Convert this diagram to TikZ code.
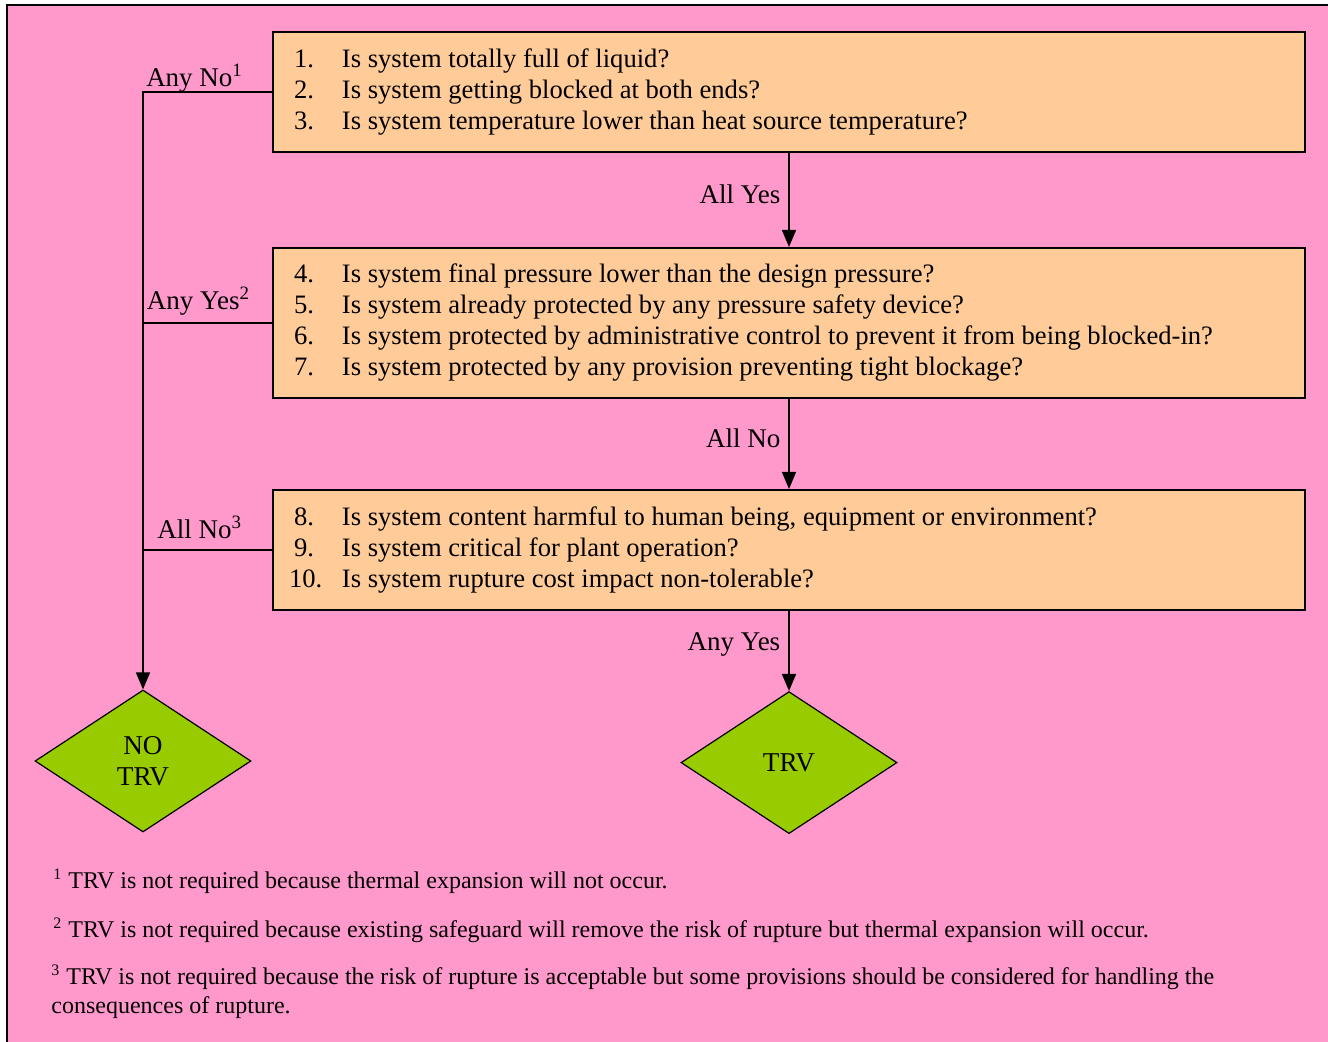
\documentclass[tikz,border=0pt]{standalone}
\usepackage{fontspec}
\setmainfont{Liberation Serif}
\usepackage{tikz}
\usetikzlibrary{arrows.meta, positioning, shapes, calc}
\definecolor{bgpink}{HTML}{FF99CC}
\definecolor{qorange}{HTML}{FFCC99}
\definecolor{dgreen}{HTML}{99CC00}
\newcommand{\qitem}[1]{\makebox[24pt][l]{#1}}

\begin{document}
\begin{tikzpicture}[x=0.5pt, y=-0.5pt, >={Triangle[width=7pt,length=8.5pt]},
    qbox/.style={draw, fill=qorange, line width=1pt, minimum width=516pt, text width=495pt,
        inner xsep=10.5pt, inner ysep=0pt, align=flush left, font=\fontsize{13.3}{15.5}\selectfont},
    decision/.style={diamond, draw, fill=dgreen, line width=0.6pt, minimum width=108pt,
        minimum height=71pt, inner sep=0pt, align=center, font=\fontsize{13.6}{15.5}\selectfont},
    lbl/.style={inner sep=1pt, font=\fontsize{13.5}{15.5}\selectfont},
    conn/.style={line width=0.75pt},
    fn/.style={inner sep=0pt, align=left, font=\fontsize{12}{14.5}\selectfont}]
    \useasboundingbox (0,0) rectangle (1328,1042);
    % 背景框
    \fill[bgpink] (7,5) rectangle (1328,1042);
    \draw[line width=1pt] (7,1042) -- (7,5) -- (1328,5);
    % 问题框
    \node[qbox, minimum height=60pt, anchor=north west] (b1) at (272,31) {%
        \qitem{1.}Is system totally full of liquid?\\
        \qitem{2.}Is system getting blocked at both ends?\\
        \qitem{3.}Is system temperature lower than heat source temperature?};
    \node[qbox, minimum height=75pt, below=47pt of b1] (b2) {%
        \qitem{4.}Is system final pressure lower than the design pressure?\\
        \qitem{5.}Is system already protected by any pressure safety device?\\
        \qitem{6.}Is system protected by administrative control to prevent it from being blocked-in?\\
        \qitem{7.}Is system protected by any provision preventing tight blockage?};
    \node[qbox, minimum height=60pt, below=45pt of b2] (b3) {%
        \qitem{8.}Is system content harmful to human being, equipment or environment?\\
        \qitem{9.}Is system critical for plant operation?\\
        \qitem{\kern-2.5pt 10.}Is system rupture cost impact non-tolerable?};
    % 结果(菱形)
    \node[decision, below=40pt of b3] (trv) {TRV};
    \node[decision] (notrv) at (143,761) {NO\\TRV};
    % 中间竖线
    \draw[->, conn] (b1) -- node[lbl, left=3pt, yshift=3pt] {All Yes} (b2);
    \draw[->, conn] (b2) -- node[lbl, left=3pt, yshift=3pt] {All No} (b3);
    \draw[->, conn] (b3) -- node[lbl, left=3pt, yshift=3pt] {Any Yes} (trv);
    % 左侧支路
    \coordinate (j1) at (b1.west -| notrv);
    \draw[->, conn] (b1.west) -- node[lbl, anchor=base, pos=0.6, yshift=2.5pt] {Any No\textsuperscript{1}} (j1) -- (notrv.north);
    \draw[conn] (b2.west) -- node[lbl, anchor=base, pos=0.57, yshift=6.5pt] {Any Yes\textsuperscript{2}} (b2.west -| notrv);
    \draw[conn] (b3.west) -- node[lbl, anchor=base, pos=0.56, yshift=5.5pt] {All No\textsuperscript{3}} (b3.west -| notrv);
    % 脚注
    \node[fn, anchor=base west] (fn1) at (53,888) {\textsuperscript{1} TRV is not required because thermal expansion will not occur.};
    \node[fn, anchor=base west] (fn2) at (53,937) {\textsuperscript{2} TRV is not required because existing safeguard will remove the risk of rupture but thermal expansion will occur.};
    \node[fn, anchor=north west] (fn3) at (51,965) {\textsuperscript{3} TRV is not required because the risk of rupture is acceptable but some provisions should be considered for handling the\\consequences of rupture.};
\end{tikzpicture}
\end{document}
